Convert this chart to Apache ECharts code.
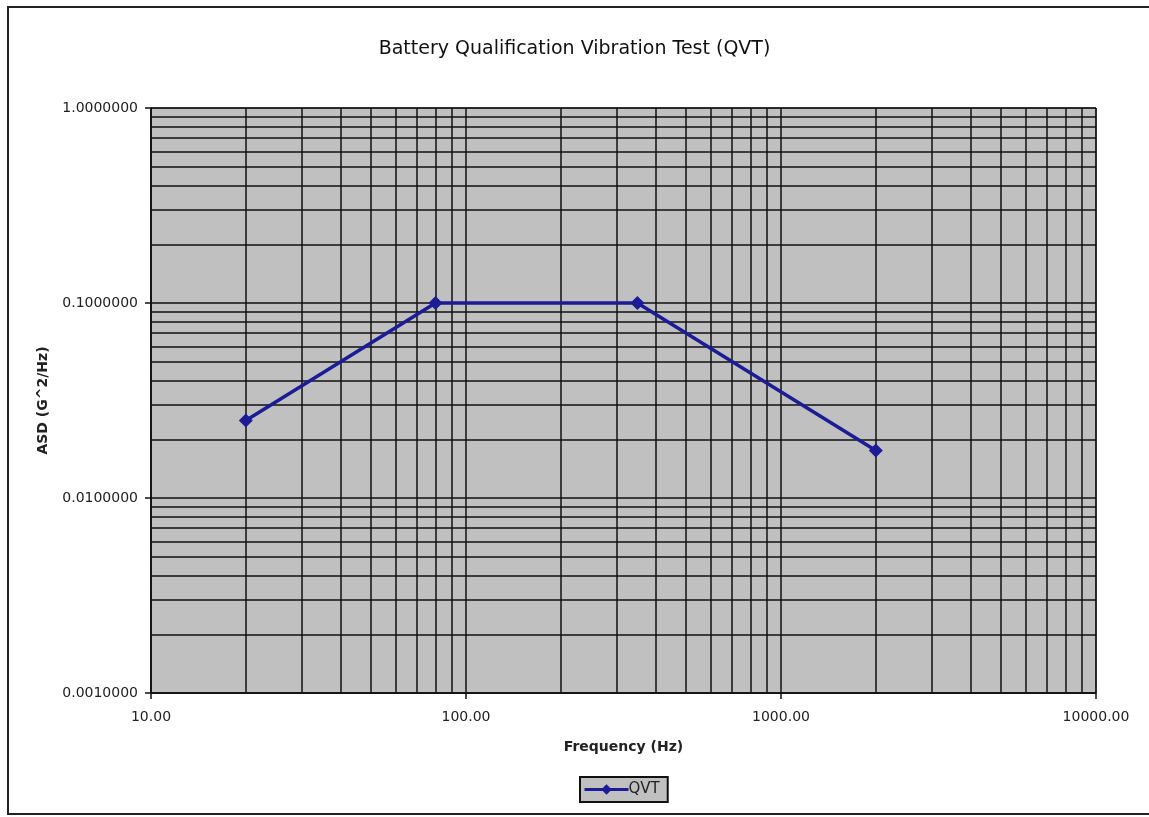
<!DOCTYPE html>
<html>
<head>
<meta charset="utf-8">
<script src="https://cdn.jsdelivr.net/npm/echarts@6/dist/echarts.min.js"></script>
<style>html,body{margin:0;padding:0;background:#fff}#c{width:1149px;height:817px}</style>
</head>
<body>
<div id="c"></div>
<script>
const frequencies = [20, 80, 350, 2000];
const asdValues = [0.025, 0.1, 0.1, 0.0175];
const xDecades = [10, 100, 1000];
const yDecades = [0.001, 0.01, 0.1];
const xRange = [10, 10000];
const yRange = [0.001, 1];
const seriesName = 'QVT';

const minorLines = [];
xDecades.forEach(d => { for (let m = 2; m <= 9; m++) minorLines.push([{ coord: [m * d, yRange[0]] }, { coord: [m * d, yRange[1]] }]); });
yDecades.forEach(d => { for (let m = 2; m <= 9; m++) { const v = +(m * d).toPrecision(3); minorLines.push([{ coord: [xRange[0], v] }, { coord: [xRange[1], v] }]); } });

const chart = echarts.init(document.getElementById('c'));
const font = 'DejaVu Sans, Verdana, sans-serif';
chart.setOption({
  animation: false,
  backgroundColor: '#fff',
  title: {
    text: 'Battery Qualification Vibration Test (QVT)',
    left: 'center', top: 35,
    textStyle: { fontFamily: font, fontSize: 19, fontWeight: 'normal', color: '#111' }
  },
  graphic: [{
    type: 'rect', shape: { x: 8, y: 7, width: 1160, height: 807 },
    style: { fill: 'none', stroke: '#222', lineWidth: 2 }, silent: true, z: -10
  }],
  legend: {
    data: [seriesName],
    left: 580, top: 777,
    backgroundColor: '#c0c0c0', borderColor: '#111', borderWidth: 2,
    padding: [5, 8, 5, 3],
    itemWidth: 44, itemHeight: 13, itemGap: 0,
    lineStyle: { width: 3 },
    textStyle: { fontFamily: font, fontSize: 15, color: '#222', padding: [0, 0, 0, -5] }
  },
  grid: { left: 151, top: 108, right: 53, bottom: 124, backgroundColor: '#c0c0c0', show: true, borderColor: '#111', borderWidth: 1 },
  xAxis: {
    type: 'log', min: xRange[0], max: xRange[1], logBase: 10,
    name: 'Frequency (Hz)', nameLocation: 'middle', nameGap: 47,
    nameTextStyle: { fontFamily: font, fontSize: 14, fontWeight: 'bold', color: '#222' },
    axisLine: { lineStyle: { color: '#111', width: 1.5 } },
    axisTick: { show: true, length: 6, lineStyle: { color: '#111', width: 1.5 } },
    axisLabel: { fontFamily: font, fontSize: 14, color: '#222', margin: 17, formatter: v => v.toFixed(2) },
    splitLine: { show: true, lineStyle: { color: '#111', width: 1.5 } }
  },
  yAxis: {
    type: 'log', min: yRange[0], max: yRange[1], logBase: 10,
    name: 'ASD (G^2/Hz)', nameLocation: 'middle', nameGap: 101,
    nameTextStyle: { fontFamily: font, fontSize: 14, fontWeight: 'bold', color: '#222' },
    axisLine: { lineStyle: { color: '#111', width: 1.5 } },
    axisTick: { show: true, length: 6, lineStyle: { color: '#111', width: 1.5 } },
    axisLabel: { fontFamily: font, fontSize: 14, color: '#222', margin: 13, formatter: v => v.toFixed(7) },
    splitLine: { show: true, lineStyle: { color: '#111', width: 1.5 } }
  },
  series: [{
    name: seriesName,
    type: 'line',
    data: frequencies.map((f, i) => [f, asdValues[i]]),
    symbol: 'diamond', symbolSize: 14,
    lineStyle: { color: '#1c1c96', width: 3.5 },
    itemStyle: { color: '#1c1c96' },
    z: 5,
    markLine: {
      silent: true, symbol: 'none', animation: false,
      label: { show: false },
      lineStyle: { color: '#111', width: 1.5, type: 'solid' },
      data: minorLines
    }
  }]
});
</script>
</body>
</html>
